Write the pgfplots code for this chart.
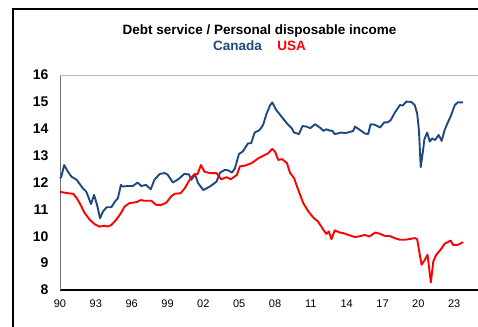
\documentclass[border=0pt]{standalone}
\usepackage{pgfplots}
\pgfplotsset{compat=1.18}
\usepackage{fontspec}
\setmainfont{Liberation Sans}
\definecolor{canblue}{RGB}{31,73,125}
\definecolor{usred}{RGB}{255,0,0}
\begin{document}
\begin{tikzpicture}
\draw[black, line width=2.3pt] (12.8pt,-8.7pt) rectangle (700pt,-700pt);
\node[anchor=base, font=\bfseries\fontsize{13.5}{16}\selectfont] at (259.5pt,-35pt) {Debt service / Personal disposable income};
\node[anchor=base, font=\bfseries\fontsize{13.5}{16}\selectfont, text=canblue] at (237.5pt,-50.7pt) {Canada};
\node[anchor=base, font=\bfseries\fontsize{13.5}{16}\selectfont, text=usred] at (291.5pt,-50.7pt) {USA};
\begin{axis}[
 at={(60pt,-290pt)}, anchor=south west,
 scale only axis, width=430pt, height=215pt,
 xmin=1990, xmax=2026, ymin=8, ymax=16,
 axis x line*=bottom, axis y line*=left,
 x axis line style={black, line width=1.2pt},
 y axis line style={black!55, line width=0.9pt},
 xtick={1990,1993,...,2023},
 xticklabels={90,93,96,99,02,05,08,11,14,17,20,23},
 ytick={8,9,...,16},
 major tick length=0pt,
 /pgf/number format/assume math mode=true,
 yticklabel style={font=\bfseries\fontsize{14}{14}\selectfont, xshift=-8pt},
 xticklabel style={font=\fontsize{11}{11}\selectfont, yshift=-6pt},
 clip=false,
]
\draw[black!28, line width=0.8pt] (rel axis cs:0,1) -- (rel axis cs:1,1);
\addplot[canblue, line width=1.9pt, line join=round] coordinates {
(1990.0,12.15)(1990.1,12.2)(1990.35,12.65)(1990.6,12.45)(1990.95,12.22)(1991.4,12.1)
(1991.9,11.79)(1992.2,11.66)(1992.6,11.2)(1992.85,11.54)(1993.1,11.17)(1993.35,10.67)
(1993.6,10.92)(1993.9,11.08)(1994.3,11.08)(1994.6,11.29)(1994.85,11.42)(1995.1,11.91)
(1995.25,11.85)(1995.7,11.87)(1996.1,11.87)(1996.5,12.0)(1996.8,11.87)(1997.2,11.91)
(1997.6,11.75)(1997.9,12.1)(1998.35,12.32)(1998.75,12.35)(1999.0,12.3)(1999.45,12.0)
(1999.9,12.12)(2000.4,12.32)(2000.8,12.3)(2001.0,12.1)(2001.3,12.3)(2001.57,11.97)
(2002.0,11.72)(2002.55,11.85)(2003.1,12.03)(2003.4,12.37)(2003.8,12.47)(2004.1,12.45)
(2004.4,12.37)(2004.65,12.53)(2004.98,13.06)(2005.3,13.15)(2005.75,13.46)(2006.0,13.46)
(2006.3,13.86)(2006.7,13.95)(2007.0,14.14)(2007.3,14.57)(2007.6,14.88)(2007.77,14.98)
(2008.1,14.7)(2008.55,14.45)(2009.0,14.2)(2009.4,14.02)(2009.6,13.86)(2010.0,13.8)
(2010.3,14.1)(2010.65,14.08)(2010.95,14.02)(2011.35,14.17)(2011.8,14.03)(2012.05,13.92)
(2012.3,13.98)(2012.6,13.93)(2012.8,13.93)(2013.0,13.8)(2013.57,13.86)(2013.85,13.84)
(2014.1,13.86)(2014.55,13.92)(2014.7,14.08)(2015.1,13.96)(2015.5,13.83)(2015.8,13.8)
(2016.0,14.17)(2016.35,14.15)(2016.8,14.05)(2017.15,14.24)(2017.45,14.24)(2017.7,14.33)
(2018.03,14.6)(2018.45,14.88)(2018.7,14.87)(2019.0,15.01)(2019.4,15.0)(2019.7,14.88)
(2019.9,14.57)(2020.05,13.95)(2020.2,12.57)(2020.4,13.21)(2020.5,13.6)(2020.74,13.86)
(2020.96,13.52)(2021.15,13.64)(2021.4,13.58)(2021.5,13.64)(2021.7,13.77)(2021.95,13.55)
(2022.2,13.95)(2022.5,14.27)(2022.7,14.45)(2023.05,14.88)(2023.3,14.98)(2023.75,14.98)
};
\addplot[usred, line width=1.9pt, line join=round] coordinates {
(1990.0,11.65)(1990.7,11.6)(1991.1,11.58)(1991.4,11.42)(1991.65,11.23)(1992.07,10.86)
(1992.5,10.61)(1992.9,10.45)(1993.3,10.36)(1993.75,10.39)(1994.0,10.36)(1994.3,10.42)
(1994.7,10.61)(1995.1,10.86)(1995.4,11.1)(1995.8,11.23)(1996.4,11.27)(1996.8,11.35)
(1997.0,11.32)(1997.65,11.32)(1998.05,11.17)(1998.5,11.17)(1998.9,11.25)(1999.3,11.48)
(1999.6,11.58)(2000.1,11.6)(2000.45,11.79)(2000.85,12.1)(2001.27,12.32)(2001.5,12.3)
(2001.8,12.65)(2002.1,12.4)(2002.55,12.35)(2003.1,12.35)(2003.5,12.12)(2003.95,12.2)
(2004.3,12.12)(2004.8,12.28)(2005.06,12.6)(2005.5,12.63)(2006.04,12.72)(2006.6,12.9)
(2007.0,12.99)(2007.43,13.09)(2007.77,13.25)(2008.0,13.15)(2008.27,12.84)(2008.6,12.87)
(2009.0,12.72)(2009.25,12.37)(2009.6,12.16)(2009.95,11.72)(2010.37,11.23)(2010.8,10.92)
(2011.2,10.7)(2011.6,10.55)(2012.05,10.24)(2012.3,10.09)(2012.5,10.18)(2012.73,9.89)
(2013.0,10.22)(2013.4,10.14)(2013.7,10.12)(2014.27,10.03)(2014.7,9.97)(2015.1,10.0)
(2015.5,10.05)(2015.9,9.99)(2016.4,10.14)(2016.8,10.09)(2017.2,10.01)(2017.6,10.01)
(2018.03,9.93)(2018.45,9.87)(2018.9,9.87)(2019.3,9.9)(2019.7,9.93)(2019.9,9.9)
(2020.1,9.37)(2020.27,8.94)(2020.54,9.12)(2020.77,9.31)(2021.05,8.28)(2021.25,9.06)
(2021.5,9.31)(2021.9,9.52)(2022.2,9.72)(2022.7,9.84)(2022.9,9.68)(2023.3,9.68)(2023.75,9.78)
};
\end{axis}
\pgfresetboundingbox
\path (0pt,0pt) rectangle (478pt,-326pt);
\end{tikzpicture}
\end{document}
